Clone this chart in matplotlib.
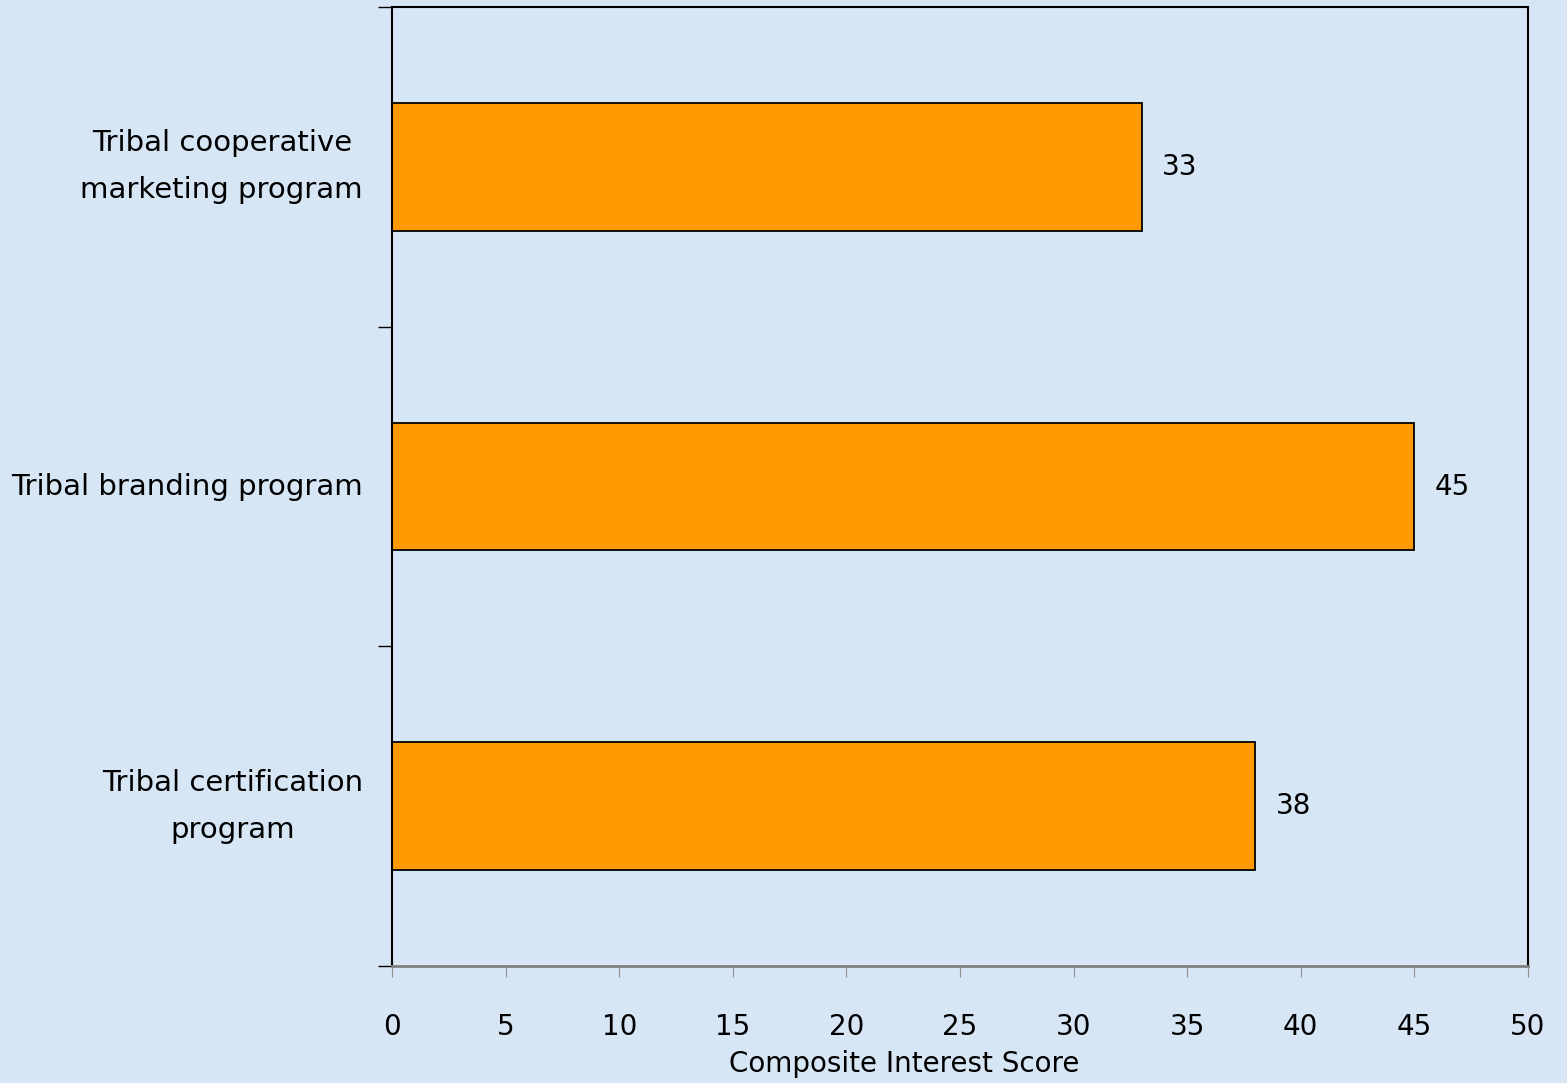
import matplotlib
matplotlib.use("Agg")
import matplotlib.pyplot as plt
import numpy as np

# Program categories (bottom to top) and composite interest scores
categories = ["Tribal certification\nprogram", "Tribal branding program",
              "Tribal cooperative\nmarketing program"]
scores = [38, 45, 33]
x_ticks = [0, 5, 10, 15, 20, 25, 30, 35, 40, 45, 50]

bg = "#D7E6F4"
bar_color = "#FF9900"

fig = plt.figure(figsize=(15.67, 10.83), dpi=100, facecolor=bg)
ax = fig.add_axes([392/1567, 1-966/1083, (1528-392)/1567, (966-7)/1083])
ax.set_facecolor(bg)

ypos = np.arange(len(categories))
ax.barh(ypos, scores, height=0.4, color=bar_color, edgecolor="black", linewidth=1.3)

font = "DejaVu Sans"
fs = 20
for y, v in zip(ypos, scores):
    ax.text(v + 0.9, y, f"{v}", va="center", ha="left", fontsize=fs, family=font)

ax.set_xlim(0, 50)
ax.set_ylim(-0.5, 2.5)
ax.set_xticks(x_ticks)
ax.set_xticklabels([str(t) for t in x_ticks], fontsize=fs, family=font)
ax.tick_params(axis="x", direction="out", length=8, color="#909090", pad=26)

# Category boundaries on the y axis carry the tick marks; labels sit at centers
ax.set_yticks([-0.5, 0.5, 1.5, 2.5])
ax.set_yticklabels([])
ax.tick_params(axis="y", direction="out", length=10, color="black", width=1)
for y, lab in zip(ypos, categories):
    ax.text(-29/1136*50, y, lab, ha="right", va="center", multialignment="center",
            fontsize=21, family=font, linespacing=1.85, transform=ax.transData, clip_on=False)

for s in ["top", "right", "left"]:
    ax.spines[s].set_color("black")
    ax.spines[s].set_linewidth(1.5)
ax.spines["bottom"].set_color("#808080")
ax.spines["bottom"].set_linewidth(2)

ax.set_xlabel("Composite Interest Score", fontsize=fs, family=font, va="center")
ax.xaxis.set_label_coords((904-392)/1136, -(1064-966)/959)

fig.savefig("out.png", dpi=100, facecolor=bg)
